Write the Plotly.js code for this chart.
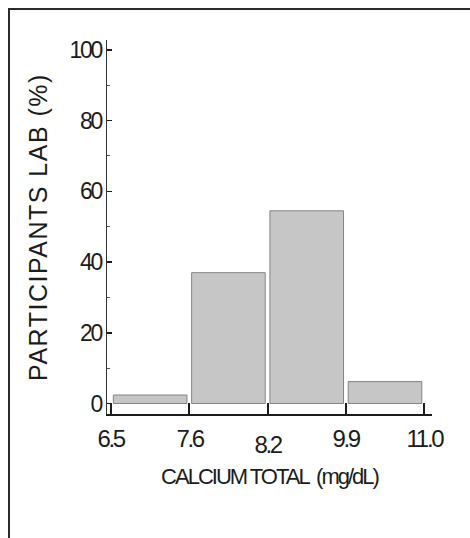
<!DOCTYPE html>
<html>
<head>
<meta charset="utf-8">
<script src="https://cdn.plot.ly/plotly-3.0.1.min.js"></script>
<style>
  html, body { margin: 0; padding: 0; background: #ffffff; }
  #chart { width: 470px; height: 538px; }
  /* the reference uses a tightly set condensed face for numbers and the x title,
     and a widely tracked face for the y title */
  #chart .ytick text, #chart .annotation-text { letter-spacing: -2.3px; }
  #chart .g-xtitle text { letter-spacing: -2px; }
  #chart .g-ytitle text { letter-spacing: 1.5px; }
</style>
</head>
<body>
<div id="chart"></div>
<script>
// ---- data ----
const binEdgeLabels = ["6.5", "7.6", "8.2", "9.9", "11.0"];   // x tick labels (bin edges)
const binCenters = [0.5, 1.5, 2.5, 3.5];                      // bins between consecutive edges
const participantsPct = [2.4, 37.0, 54.5, 6.2];               // PARTICIPANTS LAB (%)
const yTickVals = [0, 20, 40, 60, 80, 100];

// ---- layout constants ----
const W = 470, H = 538;
const M = { l: 107, r: 38, t: 40, b: 124 };
const plotW = W - M.l - M.r, plotH = H - M.t - M.b;
const face = "Liberation Sans, Arial, Helvetica, sans-serif";
const ink = "#1c1c1c";

// paper coordinates of the outer frame (left edge x=9, top y=9, runs off the right/bottom)
const fx0 = (9 - M.l) / plotW, fx1 = (W + 4 - M.l) / plotW;
const fy1 = (H - M.b - 9) / plotH, fy0 = (H - M.b - (H + 4)) / plotH;

const labelDrop = [0, 0, 6, 0, 0]; // the 8.2 label sits slightly lower in the original

const trace = {
  type: "bar",
  x: binCenters,
  y: participantsPct,
  width: 0.94,
  marker: { color: "#c6c6c6", line: { color: "#858585", width: 1 } },
  hoverinfo: "skip"
};

const annotations = binEdgeLabels.map((t, i) => ({
  x: i, xref: "x",
  y: 0, yref: "paper",
  yanchor: "middle", xanchor: "center",
  yshift: -24 - labelDrop[i],
  text: t, showarrow: false,
  font: { family: face, size: 24, color: ink }
}));

const layout = {
  width: W, height: H,
  margin: M,
  paper_bgcolor: "#ffffff",
  plot_bgcolor: "#ffffff",
  showlegend: false,
  bargap: 0,
  xaxis: {
    range: [-0.051, 4.10],
    tickmode: "array",
    tickvals: binEdgeLabels.map((_, i) => i),
    ticktext: binEdgeLabels,
    showticklabels: false,
    ticks: "inside", ticklen: 11, tickwidth: 2, tickcolor: ink,
    showline: true, linecolor: ink, linewidth: 2,
    showgrid: false, zeroline: false,
    automargin: true,
    title: { text: "CALCIUM TOTAL  (mg/dL)", standoff: 54,
             font: { family: face, size: 22, color: ink } }
  },
  yaxis: {
    range: [-2.97, 102.8],
    tickmode: "array",
    tickvals: yTickVals,
    ticks: "inside", ticklen: 5, tickwidth: 1.5, tickcolor: ink,
    minor: { dtick: 10, ticks: "inside", ticklen: 3, tickwidth: 1, tickcolor: "#555" },
    tickfont: { family: face, size: 23, color: ink },
    showline: true, linecolor: "#333", linewidth: 1.5,
    showgrid: false, zeroline: false,
    automargin: true,
    title: { text: "PARTICIPANTS LAB (%)", standoff: 8,
             font: { family: face, size: 25, color: ink } }
  },
  annotations: annotations,
  shapes: [{
    type: "rect", xref: "paper", yref: "paper",
    x0: fx0, x1: fx1, y0: fy0, y1: fy1,
    line: { color: "#2a2a2a", width: 2 }, fillcolor: "rgba(0,0,0,0)", layer: "below"
  }]
};

Plotly.newPlot("chart", [trace], layout, { displayModeBar: false, staticPlot: true });
</script>
</body>
</html>
